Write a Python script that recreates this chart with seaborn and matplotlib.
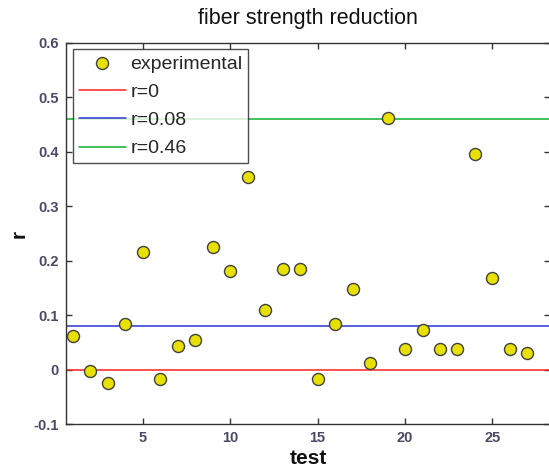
import matplotlib
matplotlib.use("Agg")
import matplotlib.pyplot as plt
import seaborn as sns
import pandas as pd
import numpy as np

tests = list(range(1, 28))
r_values = [0.061, -0.002, -0.025, 0.084, 0.216, -0.018, 0.043, 0.054, 0.225, 0.181,
            0.354, 0.109, 0.185, 0.185, -0.018, 0.084, 0.148, 0.012, 0.462, 0.037,
            0.072, 0.037, 0.037, 0.396, 0.168, 0.037, 0.031]
ref_levels = [0.0, 0.08, 0.46]
ref_labels = ["r=0", "r=0.08", "r=0.46"]
ref_colors = ["#ff2020", "#2a35d0", "#10b030"]
x_ticks = [5, 10, 15, 20, 25]
y_ticks = [-0.1, 0, 0.1, 0.2, 0.3, 0.4, 0.5, 0.6]
y_tick_labels = ["-0.1", "0", "0.1", "0.2", "0.3", "0.4", "0.5", "0.6"]

sns.set_style("white")
plt.rcParams['font.family'] = ['Liberation Sans', 'DejaVu Sans']

df = pd.DataFrame({"test": tests, "r": r_values})

fig = plt.figure(figsize=(5.49, 4.71), dpi=100)
ax = fig.add_axes([66/549, 47/471, (549-66)/549 + 0.002, (424-43)/471])

for lvl, lab, col in zip(ref_levels, ref_labels, ref_colors):
    ax.axhline(lvl, color=col, lw=1.1, label=lab, zorder=1)

sns.scatterplot(data=df, x="test", y="r", ax=ax, s=75, color="#e8e000",
                edgecolor="#404040", linewidth=1.0, label="experimental", zorder=3)

ax.set_xlim(0.6, 28.3)
ax.set_ylim(-0.1, 0.6)
ax.set_xticks(x_ticks)
ax.set_yticks(y_ticks)
ax.set_yticklabels(y_tick_labels)
ax.tick_params(direction="in", length=4, width=1, colors="#333333",
               labelcolor="#4a4a66", labelsize=10.5, top=True, right=True,
               bottom=True, left=True, pad=5)
for lbl in ax.get_xticklabels() + ax.get_yticklabels():
    lbl.set_fontweight("bold")
for sp in ax.spines.values():
    sp.set_visible(True)
    sp.set_color("#333333")
    sp.set_linewidth(1.0)

ax.set_title("fiber strength reduction", fontsize=15.5, pad=14, color="#111111")
ax.set_xlabel("test", fontsize=15, fontweight="bold", labelpad=3, color="#111111")
ax.set_ylabel("r", fontsize=15, fontweight="bold", labelpad=4, color="#111111")

handles, labels = ax.get_legend_handles_labels()
order = [labels.index("experimental")] + [labels.index(l) for l in ref_labels]
leg = ax.legend([handles[i] for i in order], [labels[i] for i in order],
                loc="upper left", bbox_to_anchor=(0.0145, 0.984), fontsize=14,
                frameon=True, fancybox=False, edgecolor="#222222",
                handlelength=2.4, handletextpad=0.25, borderpad=0.3,
                labelspacing=0.55, borderaxespad=0)
leg.get_frame().set_linewidth(1.0)

fig.savefig("out.png", dpi=100)
